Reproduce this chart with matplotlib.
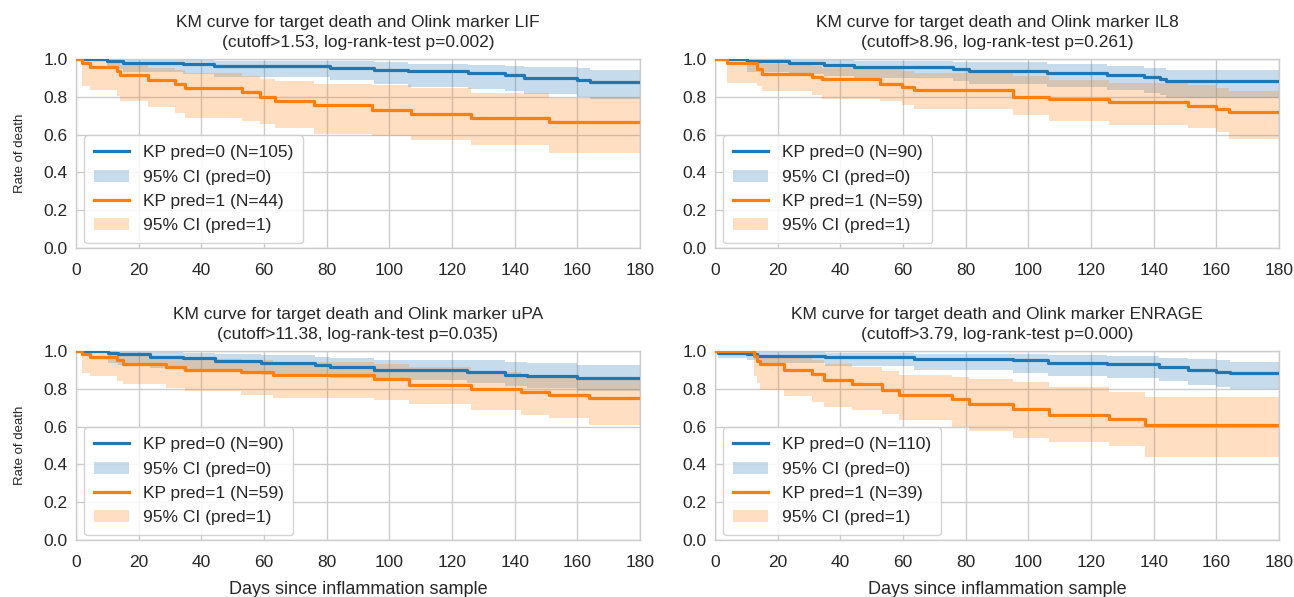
import matplotlib
matplotlib.use("Agg")
import matplotlib.pyplot as plt
import numpy as np

plt.rcParams['font.family'] = ['Liberation Sans', 'DejaVu Sans']

# ---------------- data ----------------
titles = [
    "KM curve for target death and Olink marker LIF\n(cutoff>1.53, log-rank-test p=0.002)",
    "KM curve for target death and Olink marker IL8\n(cutoff>8.96, log-rank-test p=0.261)",
    "KM curve for target death and Olink marker uPA\n(cutoff>11.38, log-rank-test p=0.035)",
    "KM curve for target death and Olink marker ENRAGE\n(cutoff>3.79, log-rank-test p=0.000)",
]
n0 = [105, 90, 90, 110]
n1 = [44, 59, 59, 39]
x_ticks = [0, 20, 40, 60, 80, 100, 120, 140, 160, 180]
y_ticks = [0.0, 0.2, 0.4, 0.6, 0.8, 1.0]
t_end = 180

# Panel 1 (LIF)
lif_t0 = [0, 10, 15, 34, 44, 81, 95, 106, 125, 137, 143, 160, 164]
lif_s0 = [1.0, 0.990, 0.981, 0.971, 0.962, 0.952, 0.943, 0.935, 0.926, 0.916, 0.902, 0.891, 0.880]
lif_lo0 = [1.0, 0.945, 0.930, 0.918, 0.905, 0.890, 0.870, 0.850, 0.840, 0.830, 0.815, 0.800, 0.790]
lif_hi0 = [1.0, 1.0, 0.998, 0.994, 0.990, 0.988, 0.986, 0.975, 0.970, 0.965, 0.958, 0.952, 0.940]
lif_t1 = [0, 2, 4.5, 13, 14, 23, 31.5, 34.7, 53, 58.6, 63.4, 76, 94.6, 106.8, 126, 151]
lif_s1 = [1.0, 0.978, 0.958, 0.938, 0.916, 0.890, 0.867, 0.846, 0.823, 0.800, 0.779, 0.756, 0.732, 0.709, 0.688, 0.665]
lif_lo1 = [1.0, 0.858, 0.835, 0.805, 0.779, 0.744, 0.712, 0.690, 0.674, 0.656, 0.635, 0.604, 0.595, 0.572, 0.547, 0.502]
lif_hi1 = [1.0, 0.997, 0.990, 0.980, 0.970, 0.955, 0.940, 0.925, 0.910, 0.895, 0.884, 0.867, 0.860, 0.845, 0.820, 0.795]

# Panel 2 (IL8)
il8_t0 = [0, 10.3, 23.5, 34.7, 44.3, 76, 81, 106, 125, 137, 142, 144]
il8_s0 = [1.0, 0.990, 0.977, 0.968, 0.958, 0.947, 0.937, 0.928, 0.916, 0.905, 0.893, 0.881]
il8_lo0 = [1.0, 0.930, 0.920, 0.910, 0.900, 0.885, 0.870, 0.850, 0.835, 0.820, 0.810, 0.795]
il8_hi0 = [1.0, 1.0, 0.997, 0.993, 0.990, 0.986, 0.986, 0.972, 0.961, 0.955, 0.950, 0.940]
il8_t1 = [0, 3.9, 13.4, 15, 31, 34.2, 52.8, 59.7, 63.4, 95, 106.7, 125.9, 150.8, 159.9, 164]
il8_s1 = [1.0, 0.977, 0.946, 0.919, 0.905, 0.893, 0.870, 0.853, 0.837, 0.800, 0.788, 0.770, 0.753, 0.735, 0.718]
il8_lo1 = [1.0, 0.875, 0.858, 0.830, 0.810, 0.788, 0.779, 0.755, 0.735, 0.705, 0.674, 0.653, 0.635, 0.612, 0.577]
il8_hi1 = [1.0, 0.997, 0.985, 0.975, 0.965, 0.955, 0.945, 0.935, 0.925, 0.910, 0.890, 0.875, 0.860, 0.845, 0.830]

# Panel 3 (uPA)
upa_t0 = [0, 10.2, 13.4, 23.5, 34.2, 44.3, 59.2, 76.2, 81, 95.1, 124.9, 137, 144, 160]
upa_s0 = [1.0, 0.991, 0.982, 0.970, 0.961, 0.946, 0.938, 0.925, 0.914, 0.902, 0.890, 0.875, 0.866, 0.858]
upa_lo0 = [1.0, 0.935, 0.925, 0.912, 0.900, 0.888, 0.875, 0.865, 0.855, 0.845, 0.830, 0.815, 0.805, 0.790]
upa_hi0 = [1.0, 1.0, 0.998, 0.994, 0.990, 0.984, 0.978, 0.970, 0.965, 0.955, 0.950, 0.943, 0.935, 0.925]
upa_t1 = [0, 2, 4.5, 13, 15, 28.8, 34.7, 52.8, 62.9, 95, 106.3, 126, 142, 151, 163.7]
upa_s1 = [1.0, 0.986, 0.968, 0.954, 0.932, 0.914, 0.902, 0.889, 0.871, 0.852, 0.818, 0.800, 0.783, 0.765, 0.750]
upa_lo1 = [1.0, 0.884, 0.866, 0.840, 0.825, 0.804, 0.786, 0.768, 0.750, 0.742, 0.719, 0.689, 0.662, 0.644, 0.609]
upa_hi1 = [1.0, 0.998, 0.990, 0.985, 0.975, 0.965, 0.958, 0.950, 0.940, 0.930, 0.915, 0.890, 0.875, 0.865, 0.850]

# Panel 4 (ENRAGE)
enr_t0 = [0, 1, 10.2, 13.4, 35, 63.4, 95.1, 106.2, 125, 141.8, 150.8, 160, 164.4]
enr_s0 = [1.0, 0.988, 0.982, 0.973, 0.968, 0.957, 0.950, 0.938, 0.929, 0.914, 0.902, 0.889, 0.882]
enr_lo0 = [1.0, 0.965, 0.950, 0.935, 0.920, 0.900, 0.885, 0.870, 0.857, 0.840, 0.820, 0.808, 0.800]
enr_hi0 = [1.0, 0.999, 0.996, 0.993, 0.990, 0.985, 0.982, 0.978, 0.972, 0.965, 0.958, 0.950, 0.943]
enr_t1 = [0, 12.4, 13.4, 14.5, 21.9, 31, 34.7, 43.7, 53.3, 58.6, 75.6, 81, 95.1, 106.7, 125.9, 137.1]
enr_s1 = [1.0, 0.974, 0.949, 0.929, 0.902, 0.879, 0.848, 0.825, 0.795, 0.768, 0.745, 0.718, 0.693, 0.664, 0.639, 0.610]
enr_lo1 = [1.0, 0.870, 0.830, 0.795, 0.760, 0.730, 0.705, 0.690, 0.665, 0.635, 0.600, 0.575, 0.540, 0.520, 0.500, 0.440]
enr_hi1 = [1.0, 0.997, 0.990, 0.980, 0.965, 0.950, 0.930, 0.915, 0.895, 0.875, 0.865, 0.850, 0.835, 0.810, 0.785, 0.755]

panels = [
    (lif_t0, lif_s0, lif_lo0, lif_hi0, lif_t1, lif_s1, lif_lo1, lif_hi1),
    (il8_t0, il8_s0, il8_lo0, il8_hi0, il8_t1, il8_s1, il8_lo1, il8_hi1),
    (upa_t0, upa_s0, upa_lo0, upa_hi0, upa_t1, upa_s1, upa_lo1, upa_hi1),
    (enr_t0, enr_s0, enr_lo0, enr_hi0, enr_t1, enr_s1, enr_lo1, enr_hi1),
]

# ---------------- style ----------------
C0 = '#1f77b4'
C1 = '#ff7f0e'
TXT = '#262626'
W, H = 1294, 597
fig = plt.figure(figsize=(W / 100, H / 100), dpi=100)
fig.patch.set_facecolor('white')

lefts = [76, 715, 76, 715]
tops = [59, 59, 351, 351]
aw, ah = 564, 189


def ext(t, v):
    return list(t) + [t_end], list(v) + [v[-1]]


for i, (ttl, p) in enumerate(zip(titles, panels)):
    x0, y0 = lefts[i], tops[i]
    ax = fig.add_axes([x0 / W, 1 - (y0 + ah) / H, aw / W, ah / H])
    ax.set_facecolor('white')
    t0, s0, lo0, hi0, t1, s1, lo1, hi1 = p

    tt, ss = ext(t0, s0)
    _, ll = ext(t0, lo0)
    _, hh = ext(t0, hi0)
    l0, = ax.step(tt, ss, where='post', color=C0, lw=2.3, zorder=3)
    f0 = ax.fill_between(tt, ll, hh, step='post', color=C0, alpha=0.25, lw=0, zorder=2)

    tt, ss = ext(t1, s1)
    _, ll = ext(t1, lo1)
    _, hh = ext(t1, hi1)
    l1, = ax.step(tt, ss, where='post', color=C1, lw=2.3, zorder=3)
    f1 = ax.fill_between(tt, ll, hh, step='post', color=C1, alpha=0.25, lw=0, zorder=2)

    ax.set_xlim(0, 180)
    ax.set_ylim(0, 1.0)
    ax.set_xticks(x_ticks)
    ax.set_yticks(y_ticks)
    ax.set_yticklabels([f"{v:.1f}" for v in y_ticks])
    ax.grid(True, color='#cccccc', lw=1.0, zorder=0)
    ax.set_axisbelow(True)
    for sp in ax.spines.values():
        sp.set_color('#cccccc')
        sp.set_linewidth(1.0)
    ax.tick_params(axis='both', length=0, labelsize=12.5, colors=TXT)
    ax.tick_params(axis='y', pad=6)
    ax.tick_params(axis='x', pad=10.5)
    ax.set_title(ttl, fontsize=12.5, color=TXT, pad=9, linespacing=1.38)
    if i % 2 == 0:
        ax.set_ylabel("Rate of death", fontsize=9.5, color=TXT, labelpad=12.5)
    if i >= 2:
        ax.set_xlabel("Days since inflammation sample", fontsize=13, color=TXT, labelpad=8)

    leg = ax.legend([l0, f0, l1, f1],
                    [f"KP pred=0 (N={n0[i]})", "95% CI (pred=0)",
                     f"KP pred=1 (N={n1[i]})", "95% CI (pred=1)"],
                    loc='lower left', fontsize=12.5, frameon=True, fancybox=True,
                    borderpad=0.57, labelspacing=0.53, handlelength=2.0,
                    handletextpad=0.8, borderaxespad=0.3,
                    bbox_to_anchor=(0.005, -0.003))
    leg.get_frame().set_edgecolor('#cccccc')
    leg.get_frame().set_alpha(0.85)
    for txt in leg.get_texts():
        txt.set_color(TXT)

fig.savefig("out.png", dpi=100, facecolor='white')
